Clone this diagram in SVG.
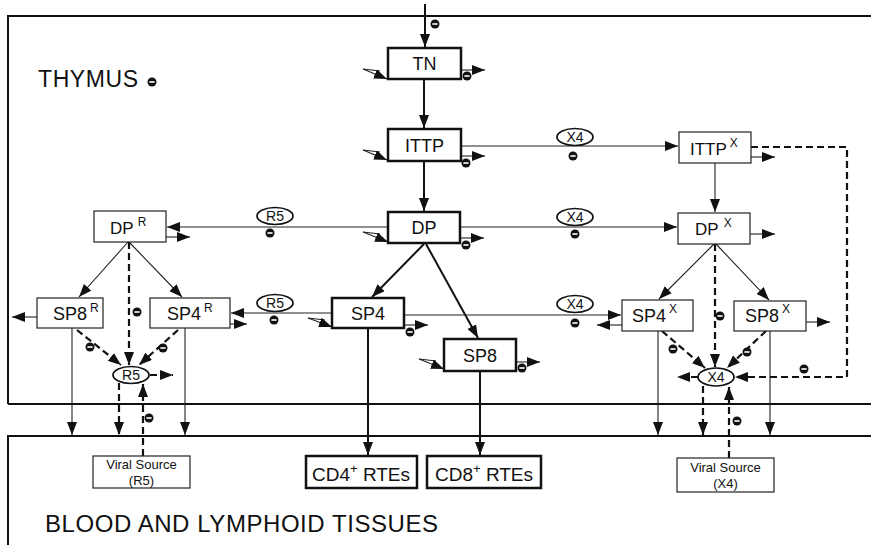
<svg xmlns="http://www.w3.org/2000/svg" width="871" height="545" viewBox="0 0 871 545">
<style>
.bk{fill:#fff;stroke:#111;stroke-width:2.5}
.bx{fill:#fff;stroke:#222;stroke-width:1.2}
.ln{stroke:#222;stroke-width:1.1;fill:none}
.lb{stroke:#111;stroke-width:2;fill:none}
.ds{stroke:#111;stroke-width:2.2;stroke-dasharray:7 4;fill:none}
.el{fill:#fff;stroke:#111;stroke-width:1.7}
.t{font-family:"Liberation Sans",Arial,sans-serif;fill:#111}
.bd{stroke:#111;stroke-width:2;fill:none}
</style>
<defs>
<marker id="ah" markerUnits="userSpaceOnUse" markerWidth="13" markerHeight="10" refX="13" refY="5" orient="auto">
<path d="M0,0 L13,5 L0,10 z" fill="#111"/>
</marker>
<g id="m"><circle r="4.5" fill="#111"/><rect x="-2.6" y="-0.8" width="5.2" height="1.6" fill="#fff"/></g>
</defs>

<g id="regions">
<path class="bd" d="M8,404 L8,16 L871,16 M8,404 L871,404"/>
<path class="bd" d="M8,545 L8,436 L871,436"/>
<text class="t" x="38" y="87" font-size="23" textLength="100">THYMUS</text>
<text class="t" x="45" y="532" font-size="24" textLength="393">BLOOD AND LYMPHOID TISSUES</text>
</g>

<g id="connectors">
<line class="lb" x1="425" y1="4" x2="425" y2="47" marker-end="url(#ah)"/>
<line class="lb" x1="424" y1="79" x2="424" y2="128" marker-end="url(#ah)"/>
<line class="lb" x1="424" y1="161" x2="424" y2="211" marker-end="url(#ah)"/>
<line class="lb" x1="424" y1="244" x2="372" y2="297" marker-end="url(#ah)"/>
<line class="lb" x1="426" y1="244" x2="478" y2="338" marker-end="url(#ah)"/>
<line class="lb" x1="368" y1="328" x2="368" y2="455" marker-end="url(#ah)"/>
<line class="lb" x1="480" y1="371" x2="480" y2="455" marker-end="url(#ah)"/>
<path class="ln" d="M363,69 L380,71"/><line class="ln" x1="363" y1="69" x2="387" y2="79" marker-end="url(#ah)"/>
<path class="ln" d="M363,150 L380,152"/><line class="ln" x1="363" y1="150" x2="387" y2="160" marker-end="url(#ah)"/>
<path class="ln" d="M363,232 L380,234"/><line class="ln" x1="363" y1="232" x2="388" y2="242" marker-end="url(#ah)"/>
<path class="ln" d="M308,318 L325,320"/><line class="ln" x1="308" y1="318" x2="332" y2="327" marker-end="url(#ah)"/>
<path class="ln" d="M419,359 L436,361"/><line class="ln" x1="419" y1="359" x2="444" y2="369" marker-end="url(#ah)"/>
<line class="ln" x1="461" y1="70" x2="485" y2="70" marker-end="url(#ah)"/>
<line class="ln" x1="461" y1="156" x2="485" y2="156" marker-end="url(#ah)"/>
<line class="ln" x1="460" y1="238" x2="484" y2="238" marker-end="url(#ah)"/>
<line class="ln" x1="404" y1="325" x2="428" y2="325" marker-end="url(#ah)"/>
<line class="ln" x1="516" y1="362" x2="540" y2="362" marker-end="url(#ah)"/>
<line class="ln" x1="166" y1="237" x2="190" y2="237" marker-end="url(#ah)"/>
<line class="ln" x1="37" y1="317" x2="12" y2="317" marker-end="url(#ah)"/>
<line class="ln" x1="230" y1="324" x2="247" y2="324" marker-end="url(#ah)"/>
<line class="ln" x1="751" y1="157" x2="775" y2="157" marker-end="url(#ah)"/>
<line class="ln" x1="750" y1="234" x2="775" y2="234" marker-end="url(#ah)"/>
<line class="ln" x1="806" y1="322" x2="830" y2="322" marker-end="url(#ah)"/>
<line class="ln" x1="622" y1="325" x2="597" y2="325" marker-end="url(#ah)"/>
<line class="ln" x1="461" y1="146" x2="678" y2="146" marker-end="url(#ah)"/>
<line class="ln" x1="388" y1="227" x2="167" y2="227" marker-end="url(#ah)"/>
<line class="ln" x1="460" y1="227" x2="677" y2="227" marker-end="url(#ah)"/>
<line class="ln" x1="332" y1="313" x2="231" y2="313" marker-end="url(#ah)"/>
<line class="ln" x1="404" y1="315" x2="621" y2="315" marker-end="url(#ah)"/>
<line class="ln" x1="715" y1="163" x2="715" y2="212" marker-end="url(#ah)"/>
<line class="ln" x1="128" y1="242" x2="79" y2="297" marker-end="url(#ah)"/>
<line class="ln" x1="129" y1="242" x2="182" y2="297" marker-end="url(#ah)"/>
<line class="ln" x1="714" y1="244" x2="659" y2="299" marker-end="url(#ah)"/>
<line class="ln" x1="716" y1="244" x2="769" y2="300" marker-end="url(#ah)"/>
<line class="ln" x1="72" y1="328" x2="72" y2="435" marker-end="url(#ah)"/>
<line class="ln" x1="185" y1="328" x2="185" y2="435" marker-end="url(#ah)"/>
<line class="ln" x1="658" y1="331" x2="658" y2="435" marker-end="url(#ah)"/>
<line class="ln" x1="770" y1="331" x2="770" y2="435" marker-end="url(#ah)"/>
<line class="ds" x1="129" y1="242" x2="129" y2="365" marker-end="url(#ah)"/>
<line class="ds" x1="77" y1="330" x2="121" y2="365" marker-end="url(#ah)"/>
<line class="ds" x1="178" y1="330" x2="139" y2="365" marker-end="url(#ah)"/>
<line class="ds" x1="150" y1="375" x2="173" y2="375" marker-end="url(#ah)"/>
<line class="ds" x1="119" y1="383" x2="119" y2="435" marker-end="url(#ah)"/>
<line class="ds" x1="143" y1="456" x2="143" y2="384" marker-end="url(#ah)"/>
<line class="ds" x1="715" y1="244" x2="715" y2="367" marker-end="url(#ah)"/>
<line class="ds" x1="662" y1="331" x2="705" y2="368" marker-end="url(#ah)"/>
<line class="ds" x1="766" y1="331" x2="727" y2="368" marker-end="url(#ah)"/>
<path class="ds" d="M751,147 L847,147 L847,377 L735,377" marker-end="url(#ah)"/>
<line class="ds" x1="698" y1="377" x2="677" y2="377" marker-end="url(#ah)"/>
<line class="ds" x1="703" y1="386" x2="703" y2="435" marker-end="url(#ah)"/>
<line class="ds" x1="729" y1="458" x2="729" y2="387" marker-end="url(#ah)"/>
</g>

<g id="inhibitors">
<use href="#m" x="435" y="24"/>
<use href="#m" x="152" y="82"/>
<use href="#m" x="467" y="76"/>
<use href="#m" x="466" y="163"/>
<use href="#m" x="466" y="245"/>
<use href="#m" x="410" y="332"/>
<use href="#m" x="522" y="368"/>
<use href="#m" x="270" y="233"/>
<use href="#m" x="274" y="320"/>
<use href="#m" x="573" y="156"/>
<use href="#m" x="575" y="234"/>
<use href="#m" x="575" y="323"/>
<use href="#m" x="137" y="312"/>
<use href="#m" x="90" y="347"/>
<use href="#m" x="163" y="348"/>
<use href="#m" x="149" y="418"/>
<use href="#m" x="720" y="316"/>
<use href="#m" x="673" y="349"/>
<use href="#m" x="747" y="352"/>
<use href="#m" x="804" y="369"/>
<use href="#m" x="737" y="421"/>
</g>

<g id="TN"><rect class="bk" x="388" y="48" width="73" height="31"/><text class="t" x="424.5" y="70" font-size="18" text-anchor="middle">TN</text></g>
<g id="ITTP"><rect class="bk" x="388" y="129" width="73" height="32"/><text class="t" x="424.5" y="152" font-size="18" text-anchor="middle">ITTP</text></g>
<g id="DP"><rect class="bk" x="388" y="212" width="72" height="31"/><text class="t" x="424" y="234" font-size="18" text-anchor="middle">DP</text></g>
<g id="SP4"><rect class="bk" x="332" y="298" width="72" height="30"/><text class="t" x="368" y="320" font-size="18" text-anchor="middle">SP4</text></g>
<g id="SP8"><rect class="bk" x="444" y="339" width="72" height="32"/><text class="t" x="480" y="362" font-size="18" text-anchor="middle">SP8</text></g>

<g id="ITTPX"><rect class="bx" x="679" y="132" width="72" height="31"/><text class="t" x="690" y="155" font-size="17">ITTP<tspan dx="3" dy="-8" font-size="12">X</tspan></text></g>
<g id="DPX"><rect class="bx" x="678" y="213" width="72" height="31"/><text class="t" x="695" y="235" font-size="17">DP<tspan dx="5" dy="-8" font-size="12">X</tspan></text></g>
<g id="SP4X"><rect class="bx" x="622" y="300" width="71" height="31"/><text class="t" x="632" y="322" font-size="18">SP4<tspan dx="3" dy="-9" font-size="12">X</tspan></text></g>
<g id="SP8X"><rect class="bx" x="734" y="301" width="72" height="30"/><text class="t" x="745" y="322" font-size="18">SP8<tspan dx="3" dy="-9" font-size="12">X</tspan></text></g>

<g id="DPR"><rect class="bx" x="94" y="211" width="72" height="31"/><text class="t" x="110" y="234" font-size="17">DP<tspan dx="4" dy="-8" font-size="12">R</tspan></text></g>
<g id="SP8R"><rect class="bx" x="37" y="298" width="66" height="30"/><text class="t" x="53" y="320" font-size="18">SP8<tspan dx="3" dy="-8" font-size="12">R</tspan></text></g>
<g id="SP4R"><rect class="bx" x="150" y="298" width="80" height="30"/><text class="t" x="167" y="320" font-size="18">SP4<tspan dx="3" dy="-8" font-size="12">R</tspan></text></g>

<g id="R5-DP"><ellipse class="el" cx="275" cy="216" rx="18" ry="8.5"/><text class="t" x="275" y="221" font-size="14" text-anchor="middle">R5</text></g>
<g id="R5-SP4"><ellipse class="el" cx="275" cy="303" rx="18" ry="8.5"/><text class="t" x="275" y="308" font-size="14" text-anchor="middle">R5</text></g>
<g id="X4-ITTP"><ellipse class="el" cx="575" cy="137" rx="18" ry="8.5"/><text class="t" x="575" y="142" font-size="14" text-anchor="middle">X4</text></g>
<g id="X4-DP"><ellipse class="el" cx="575" cy="217" rx="18" ry="8.5"/><text class="t" x="575" y="222" font-size="14" text-anchor="middle">X4</text></g>
<g id="X4-SP4"><ellipse class="el" cx="575" cy="304" rx="18" ry="8.5"/><text class="t" x="575" y="309" font-size="14" text-anchor="middle">X4</text></g>
<g id="R5"><ellipse class="el" cx="131" cy="375" rx="18" ry="8.5"/><text class="t" x="131" y="380" font-size="14" text-anchor="middle">R5</text></g>
<g id="X4"><ellipse class="el" cx="716" cy="377" rx="18" ry="9"/><text class="t" x="716" y="382" font-size="14" text-anchor="middle">X4</text></g>

<g id="CD4RTEs"><rect class="bk" x="306" y="456" width="111" height="32"/><text class="t" x="312" y="481" font-size="19">CD4<tspan dy="-8" font-size="13">+</tspan><tspan dy="8"> RTEs</tspan></text></g>
<g id="CD8RTEs"><rect class="bk" x="427" y="456" width="114" height="32"/><text class="t" x="435" y="481" font-size="19">CD8<tspan dy="-8" font-size="13">+</tspan><tspan dy="8"> RTEs</tspan></text></g>
<g id="ViralR5"><rect class="bx" x="93" y="456" width="97" height="32"/><text class="t" x="141.5" y="469" font-size="13" text-anchor="middle">Viral Source</text><text class="t" x="141.5" y="485" font-size="13" text-anchor="middle">(R5)</text></g>
<g id="ViralX4"><rect class="bx" x="677" y="458" width="97" height="34"/><text class="t" x="725.5" y="472" font-size="13" text-anchor="middle">Viral Source</text><text class="t" x="725.5" y="488" font-size="13" text-anchor="middle">(X4)</text></g>
</svg>
